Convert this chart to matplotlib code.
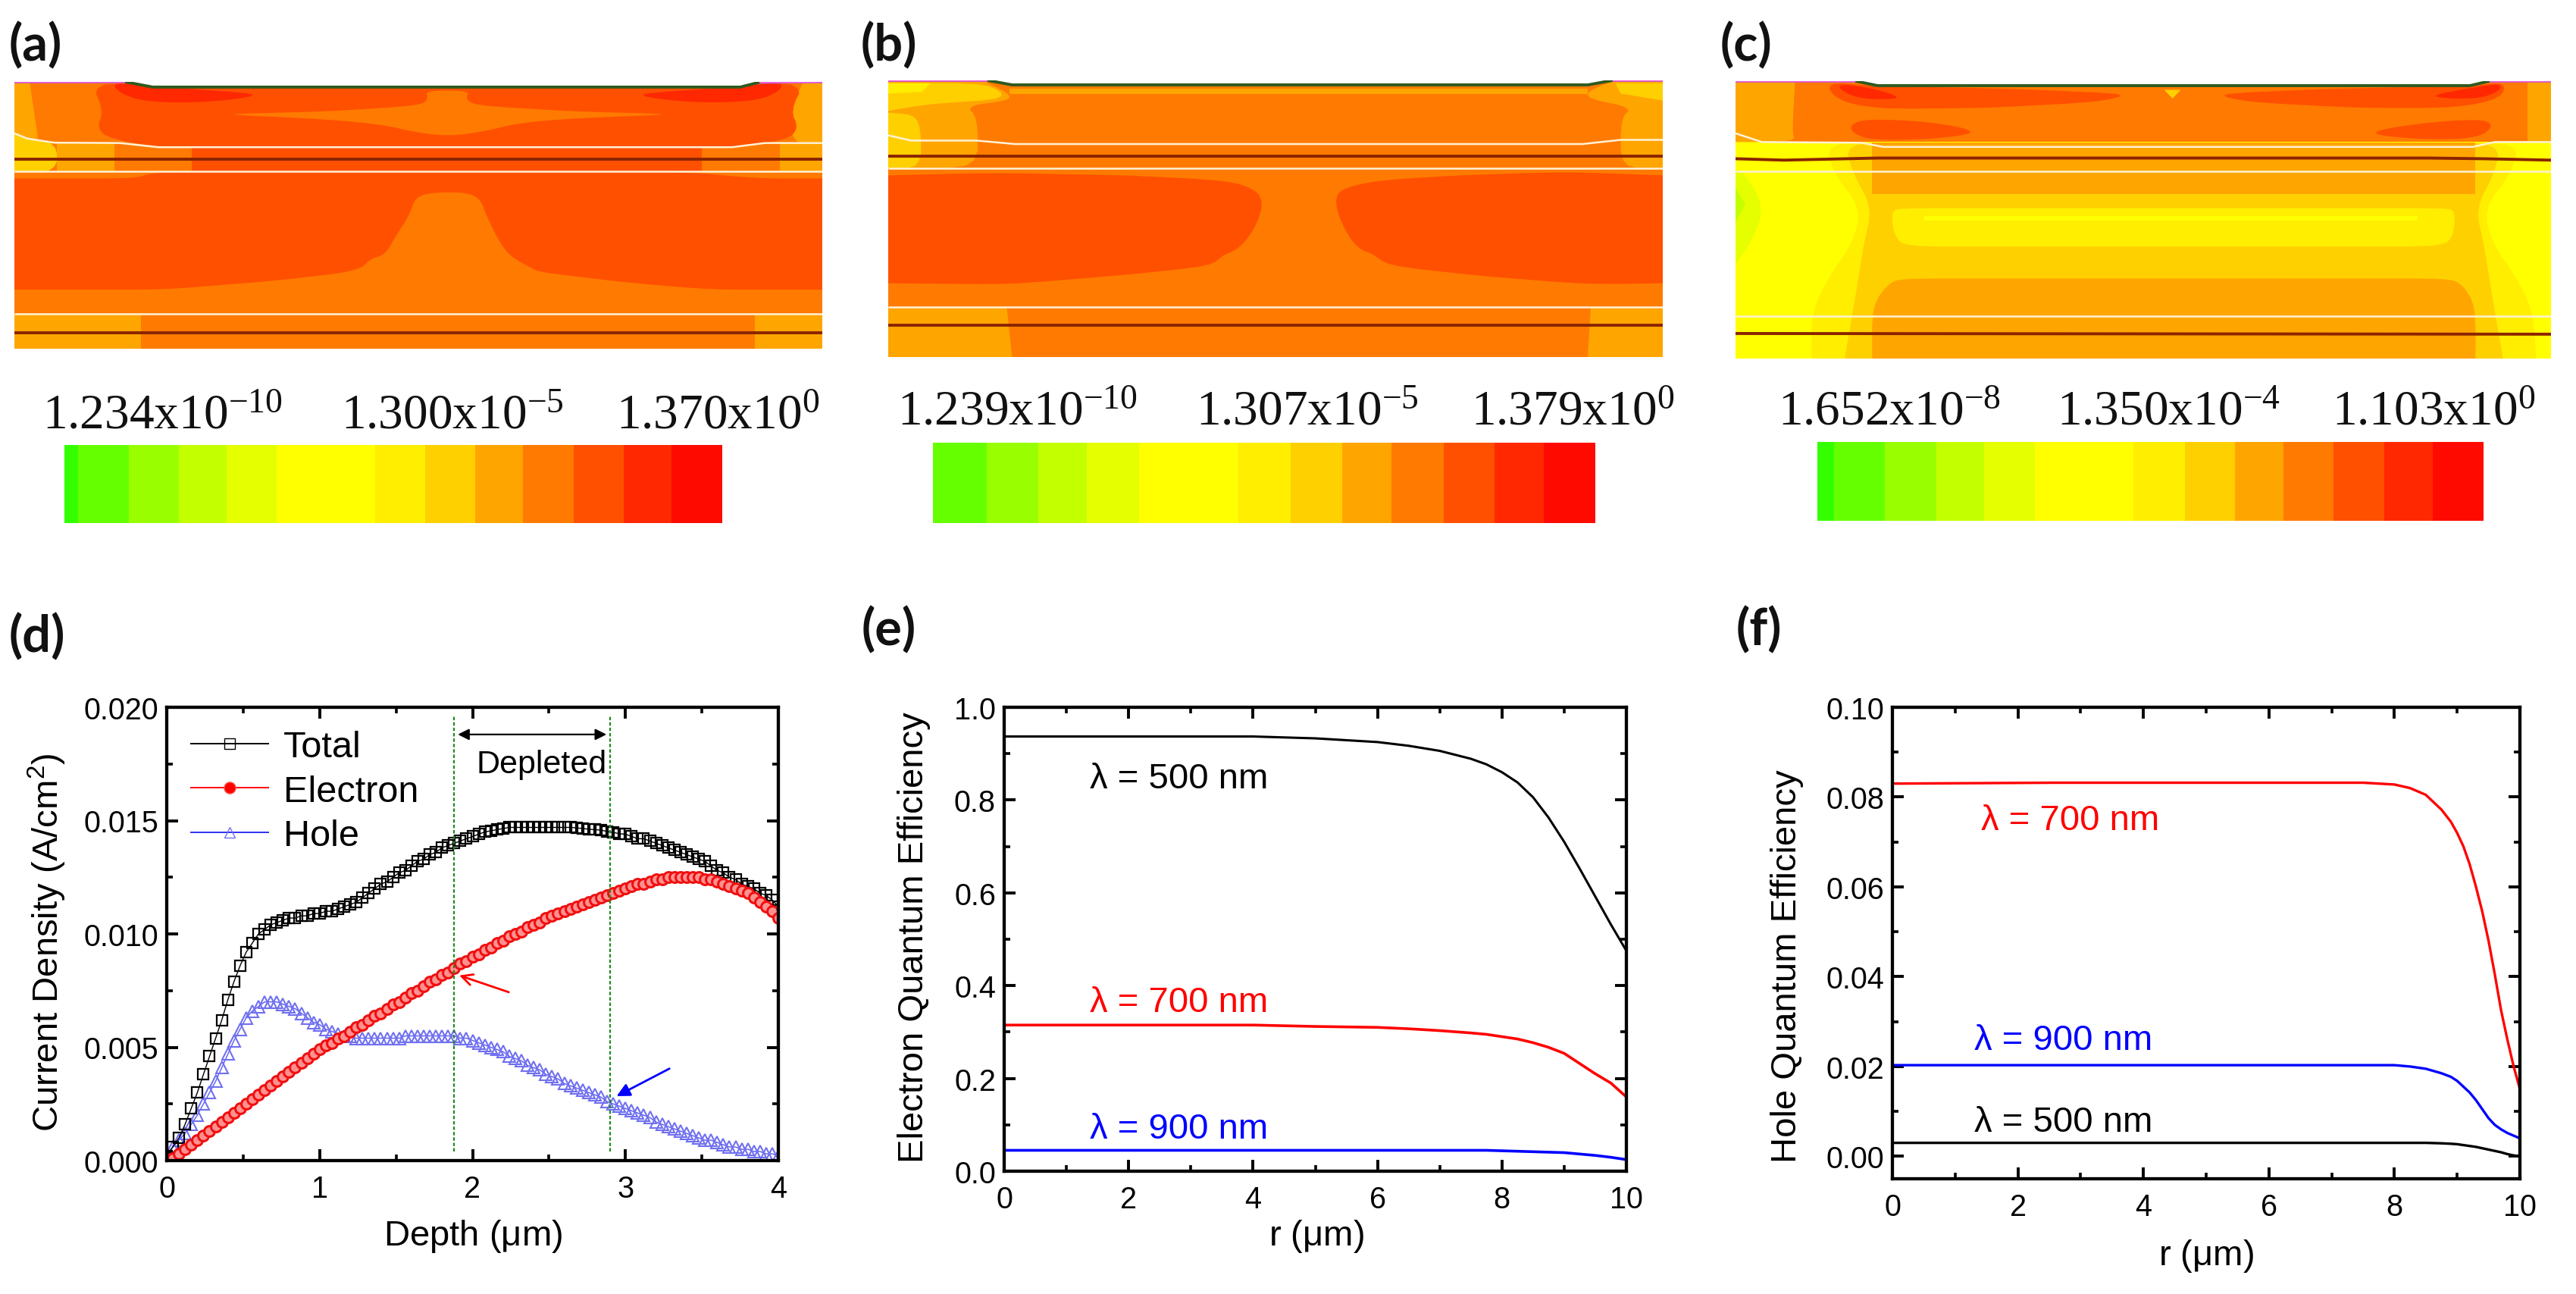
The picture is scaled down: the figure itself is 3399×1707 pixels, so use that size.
import numpy as np
from matplotlib import pyplot as plt
from matplotlib.lines import Line2D
from matplotlib.ticker import MultipleLocator, FormatStrFormatter

W = 3399
H = 1708

plt.rcParams['font.family'] = ['Liberation Sans', 'DejaVu Sans']
plt.rcParams['mathtext.default'] = 'regular'

# colour levels of the contour scale, low to high
GREEN0 = '#33ff00'
GREEN1 = '#66ff00'
GREEN2 = '#99ff00'
GREEN3 = '#c4ff00'
GREEN4 = '#e6ff00'
YEL0 = '#ffff00'
YEL1 = '#ffee00'
YEL2 = '#ffd000'
AMB = '#ffa500'
ORG = '#ff7a00'
DEEP = '#ff5000'
RED0 = '#ff2800'
RED1 = '#ff0a00'
SCALE_COLORS = [GREEN0, GREEN1, GREEN2, GREEN3, GREEN4, YEL0, YEL1, YEL2, AMB, ORG, DEEP, RED0, RED1]

# colour bar step edges
BAR_A = [118, 143, 236, 328, 415, 507, 687, 779, 871, 958, 1051, 1143, 1230, 1323]
BAR_B = [140, 140, 238, 333, 422, 517, 700, 795, 890, 980, 1075, 1168, 1258, 1353]
BAR_C = [190, 220, 313, 406, 493, 585, 764, 857, 949, 1036, 1128, 1220, 1308, 1400]

LABELS_A = ['1.234x10$^{-10}$', '1.300x10$^{-5}$', '1.370x10$^{0}$']
LABELS_B = ['1.239x10$^{-10}$', '1.307x10$^{-5}$', '1.379x10$^{0}$']
LABELS_C = ['1.652x10$^{-8}$', '1.350x10$^{-4}$', '1.103x10$^{0}$']

# contour regions, in the picture units of each map, painted in order
MAP_A = [
    (AMB, [(27, 237), (55, 237), (70, 400), (27, 400)]),
    (AMB, [(1470, 237), (1505, 237), (1505, 415), (1450, 415), (1447, 320)]),
    (DEEP, [(168, 240), (190, 320), (178, 370), (200, 400), (290, 425), (1340, 425), (1440, 405), (1462, 370),
            (1447, 320), (1472, 240)]),
    (ORG, [(400, 330), (600, 322), (770, 305), (785, 285), (778, 262), (860, 262), (852, 285), (870, 305),
           (1050, 322), (1240, 330), (1050, 342), (950, 355), (880, 382), (820, 393), (760, 382), (700, 360),
           (600, 345)]),
    (RED0, [(205, 238), (285, 250), (480, 272), (430, 288), (340, 298), (260, 292), (218, 268)]),
    (RED0, [(1432, 238), (1355, 250), (1160, 272), (1210, 288), (1300, 298), (1390, 290), (1428, 262)]),
    (YEL2, [(27, 385), (50, 400), (105, 412), (105, 497), (27, 497)]),
    (AMB, [(105, 412), (210, 412), (210, 497), (105, 497)]),
    (ORG, [(210, 412), (290, 425), (352, 425), (352, 497), (210, 497)]),
    (DEEP, [(352, 425), (1285, 425), (1285, 497), (352, 497)]),
    (ORG, [(1285, 425), (1345, 425), (1428, 412), (1428, 497), (1285, 497)]),
    (AMB, [(1428, 412), (1505, 412), (1505, 497), (1428, 497)]),
    (DEEP, [(27, 515), (250, 515), (280, 497), (1270, 497), (1380, 515), (1505, 515), (1505, 835), (1300, 835),
            (1150, 815), (990, 785), (975, 775), (935, 740), (915, 700), (890, 620), (880, 575), (855, 555),
            (790, 555), (760, 570), (750, 620), (725, 680), (705, 735), (680, 745), (655, 782), (500, 810),
            (300, 835), (27, 835)]),
    (AMB, [(27, 905), (258, 905), (258, 1005), (27, 1005)]),
    (AMB, [(1382, 905), (1505, 905), (1505, 1005), (1382, 1005)]),
]
MAP_B = [
    (AMB, [(58, 232), (230, 232), (280, 270), (280, 290), (200, 305), (222, 340), (222, 485), (58, 485)]),
    (AMB, [(1390, 232), (1477, 232), (1477, 485), (1400, 485), (1400, 340), (1422, 310), (1340, 285), (1340, 262)]),
    (AMB, [(280, 255), (1340, 255), (1340, 272), (280, 272)]),
    (YEL2, [(58, 240), (240, 240), (280, 285), (130, 300), (58, 320)]),
    (YEL2, [(1390, 240), (1477, 240), (1477, 290), (1400, 270)]),
    (YEL1, [(58, 240), (135, 240), (120, 265), (58, 270)]),
    (YEL2, [(58, 325), (105, 330), (118, 370), (118, 485), (58, 485)]),
    (DEEP, [(58, 505), (250, 498), (500, 505), (680, 520), (730, 545), (745, 580), (735, 640), (715, 690),
            (695, 720), (670, 735), (650, 765), (500, 790), (280, 818), (58, 815)]),
    (DEEP, [(1477, 505), (1300, 495), (1100, 505), (950, 520), (885, 545), (877, 580), (885, 630), (905, 690),
            (925, 720), (945, 730), (975, 765), (1150, 795), (1340, 818), (1477, 815)]),
    (AMB, [(58, 883), (275, 883), (285, 1027), (58, 1027)]),
    (AMB, [(1345, 883), (1477, 883), (1477, 1027), (1340, 1027)]),
]
MAP_C = [
    (YEL0, [(42, 410), (1522, 410), (1522, 1032), (42, 1032)]),
    (AMB, [(42, 235), (150, 235), (145, 380), (150, 410), (42, 410)]),
    (AMB, [(1480, 235), (1522, 235), (1522, 410), (1480, 410)]),
    (DEEP, [(205, 238), (285, 248), (560, 258), (760, 272), (700, 295), (500, 312), (300, 315), (225, 290)]),
    (DEEP, [(1440, 238), (1385, 248), (1100, 258), (910, 272), (970, 295), (1170, 312), (1350, 312), (1432, 285)]),
    (RED0, [(225, 242), (290, 255), (350, 285), (280, 288), (240, 270)]),
    (RED0, [(1432, 242), (1385, 252), (1290, 280), (1385, 288), (1428, 265)]),
    (DEEP, [(250, 360), (280, 343), (400, 352), (490, 382), (400, 402), (290, 405), (255, 385)]),
    (DEEP, [(1420, 360), (1390, 343), (1270, 358), (1182, 385), (1280, 403), (1390, 400)]),
    (YEL2, [(820, 260), (850, 260), (835, 285)]),
    (GREEN4, [(42, 490), (60, 500), (95, 600), (70, 700), (42, 760)]),
    (GREEN3, [(42, 540), (60, 590), (42, 640)]),
    (YEL1, [(205, 412), (220, 500), (270, 600), (255, 700), (210, 800), (180, 900), (180, 1032), (1495, 1032),
            (1490, 900), (1460, 800), (1415, 700), (1400, 600), (1450, 500), (1465, 412)]),
    (YEL2, [(240, 412), (255, 500), (290, 600), (275, 700), (260, 850), (240, 1032), (1435, 1032), (1415, 850),
            (1400, 700), (1385, 600), (1420, 500), (1430, 412)]),
    (AMB, [(290, 412), (1385, 412), (1385, 560), (290, 560)]),
    (YEL1, [(325, 610), (340, 600), (1335, 600), (1348, 610), (1345, 680), (1325, 710), (350, 710), (330, 680)]),
    (YEL0, [(385, 622), (1280, 622), (1280, 636), (385, 636)]),
    (AMB, [(320, 815), (345, 802), (1330, 802), (1360, 815), (1385, 880), (1385, 1032), (290, 1032), (290, 880)]),
]

TOP_A = [(27, 237), (230, 237), (280, 252), (1355, 252), (1390, 238), (1505, 237)]
TOP_B = [(58, 232), (240, 232), (285, 245), (1340, 245), (1385, 232), (1477, 232)]
TOP_C = [(42, 235), (260, 235), (300, 248), (1375, 248), (1410, 235), (1522, 235)]

WHITE_A = [[(27, 385), (50, 400), (100, 412), (220, 413), (290, 425), (1340, 425), (1400, 413), (1505, 413)],
           [(27, 495), (1505, 495)], [(27, 905), (1505, 905)]]
WHITE_B = [[(58, 390), (100, 405), (220, 405), (290, 415), (1330, 415), (1400, 403), (1477, 403)],
           [(58, 485), (1477, 485)], [(58, 883), (1477, 883)]]
WHITE_C = [[(42, 385), (90, 410), (270, 412), (310, 424), (1380, 424), (1420, 410), (1522, 410)],
           [(42, 495), (1522, 495)], [(42, 910), (1522, 910)]]
DARK_A = [[(27, 460), (1505, 460)], [(27, 960), (1505, 960)]]
DARK_B = [[(58, 450), (1477, 450)], [(58, 935), (1477, 935)]]
DARK_C = [[(42, 458), (130, 462), (300, 456), (1300, 456), (1400, 458), (1522, 462)], [(42, 960), (1522, 962)]]

# panel d
DEPTH = [0.00, 0.04, 0.08, 0.12, 0.16, 0.20, 0.24, 0.28, 0.32, 0.36,
         0.40, 0.44, 0.48, 0.52, 0.56, 0.60, 0.64, 0.68, 0.72, 0.76,
         0.80, 0.84, 0.88, 0.92, 0.96, 1.00, 1.04, 1.08, 1.12, 1.16,
         1.20, 1.24, 1.28, 1.32, 1.36, 1.40, 1.44, 1.48, 1.52, 1.56,
         1.60, 1.64, 1.68, 1.72, 1.76, 1.80, 1.84, 1.88, 1.92, 1.96,
         2.00, 2.04, 2.08, 2.12, 2.16, 2.20, 2.24, 2.28, 2.32, 2.36,
         2.40, 2.44, 2.48, 2.52, 2.56, 2.60, 2.64, 2.68, 2.72, 2.76,
         2.80, 2.84, 2.88, 2.92, 2.96, 3.00, 3.04, 3.08, 3.12, 3.16,
         3.20, 3.24, 3.28, 3.32, 3.36, 3.40, 3.44, 3.48, 3.52, 3.56,
         3.60, 3.64, 3.68, 3.72, 3.76, 3.80, 3.84, 3.88, 3.92, 3.96,
         4.00]
TOTAL = [.0002, .0006, .0010, .0016, .0023, .0030, .0038, .0046, .0054, .0062,
         .0071, .0079, .0086, .0092, .0096, .0100, .0102, .0104, .0105, .0106,
         .0107, .0107, .0108, .0108, .0109, .0109, .0110, .0110, .0111, .0112,
         .0113, .0114, .0116, .0118, .0120, .0122, .0123, .0125, .0127, .0128,
         .0130, .0132, .0133, .0135, .0136, .0138, .0139, .0140, .0141, .0142,
         .0143, .0144, .0145, .01455, .0146, .01465, .0147, .0147, .0147, .0147,
         .0147, .0147, .0147, .0147, .0147, .0147, .0147, .01468, .01465, .01462,
         .0146, .01458, .01452, .01448, .01442, .0144, .0143, .0142, .0142, .0141,
         .0140, .0139, .0138, .0137, .0136, .0135, .0134, .0133, .0132, .0130,
         .0128, .0127, .0125, .0124, .0122, .0121, .0120, .0118, .0117, .0115,
         .0112]
ELECTRON = [.0000, .0001, .0003, .0005, .0007, .0009, .0011, .0013, .0015, .0017,
            .0019, .0021, .0023, .0025, .0027, .0029, .0031, .0033, .0035, .0037,
            .0039, .0041, .0043, .0045, .0047, .0049, .0051, .0052, .0054, .0055,
            .0057, .0059, .0060, .0062, .0064, .0065, .0067, .0069, .0070, .0072,
            .0074, .0075, .0077, .0079, .0080, .0082, .0083, .0085, .0087, .0088,
            .0090, .0091, .0093, .0094, .0096, .0097, .0099, .0100, .0101, .0103,
            .0104, .0105, .0107, .0108, .0109, .0110, .0111, .0112, .0113, .0114,
            .0115, .0116, .0117, .0118, .0119, .0120, .0121, .0122, .0122, .0123,
            .0124, .0124, .0125, .0125, .0125, .0125, .0125, .0125, .0124, .0124,
            .0123, .0122, .0121, .0120, .0119, .0118, .0116, .0114, .0112, .0110,
            .0107]
HOLE = [.0003, .0006, .0009, .0012, .0016, .0020, .0025, .0030, .0035, .0041,
        .0047, .0053, .0058, .0063, .0066, .0068, .0070, .0070, .0070, .0069,
        .0068, .0067, .0065, .0063, .0061, .0060, .0058, .0057, .0056, .0055,
        .0055, .0054, .0054, .0054, .0054, .0054, .0054, .0054, .0054, .0055,
        .0055, .0055, .0055, .0055, .0055, .0055, .0055, .0055, .0054, .0054,
        .0053, .0052, .0051, .0050, .0049, .0048, .0046, .0045, .0044, .0042,
        .0041, .0040, .0038, .0037, .0036, .0034, .0033, .0032, .0031, .0030,
        .0029, .0028, .0026, .0025, .0024, .0023, .0022, .0021, .0020, .0019,
        .0017, .0016, .0015, .0014, .0013, .0012, .0011, .0010, .0009, .0009,
        .0008, .0007, .0006, .0006, .0005, .0005, .0004, .0004, .0003, .0003,
        .0002]
DEPLETED = [1.88, 2.90]

# panel e
R_E = [0, 1, 2, 3, 4, 5, 6, 6.5, 7, 7.5, 7.75, 8, 8.25, 8.5, 8.75, 9, 9.25, 9.5, 9.75, 10]
E_500 = [.937, .937, .937, .937, .937, .933, .925, .917, .906, .889, .877, .860, .838, .806, .762, .710, .652, .592,
         .532, .475]
E_700 = [.315, .315, .315, .315, .315, .312, .310, .307, .303, .298, .295, .290, .285, .277, .267, .254, .232, .210,
         .190, .160]
E_900 = [.045, .045, .045, .045, .045, .045, .045, .045, .045, .045, .045, .044, .043, .042, .041, .040, .037, .034,
         .030, .025]

# panel f
R_F = [0, 2.6, 5, 7.5, 8, 8.25, 8.5, 8.75, 8.9, 9, 9.1, 9.2, 9.3, 9.4, 9.5, 9.6, 9.7, 9.8, 9.9, 10]
F_700 = [.0830, .0832, .0832, .0832, .0828, .0820, .0805, .0772, .0745, .0720, .0690, .0650, .0600, .0545, .0480,
         .0405, .0325, .0260, .0200, .0150]
F_900 = [.0203, .0203, .0203, .0203, .0203, .0200, .0195, .0185, .0177, .0168, .0155, .0142, .0125, .0105, .0085,
         .0070, .0060, .0052, .0046, .0040]
F_500 = [.0030, .0030, .0030, .0030, .0030, .0030, .0030, .0029, .0028, .0027, .0025, .0023, .0021, .0018, .0015,
         .0012, .0009, .0005, .0002, .0000]


def px_axes(left, top, right, bottom):
    return fig.add_axes([left / W, 1 - bottom / H, (right - left) / W, (bottom - top) / H])


# round the corners of a region outline, keeping the points that sit on the map border
def soften(pts, lims, rounds=2):
    x0, x1, y0, y1 = lims
    for _ in range(rounds):
        out = []
        n = len(pts)
        for i in range(n):
            p = np.array(pts[i], dtype=float)
            if p[0] <= x0 or p[0] >= x1 or p[1] <= y0 or p[1] >= y1:
                out.append(tuple(p))
                continue
            a = np.array(pts[i - 1], dtype=float)
            b = np.array(pts[(i + 1) % n], dtype=float)
            cut_a = min(0.25, 30 / max(np.hypot(*(a - p)), 1))
            cut_b = min(0.25, 30 / max(np.hypot(*(b - p)), 1))
            out.append(tuple(p + (a - p) * cut_a))
            out.append(tuple(p + (b - p) * cut_b))
        pts = out
    return pts


def draw_map(left, top, right, bottom, lims, base, layers, surface, white, dark):
    ax = px_axes(left, top, right, bottom)
    x0, x1, y0, y1 = lims
    ax.set_xlim(x0, x1)
    ax.set_ylim(y1, y0)
    ax.axis('off')
    ax.fill([x0, x1, x1, x0], [y0, y0, y1, y1], color=base, lw=0)
    for color, pts in layers:
        if len(pts) > 4:
            pts = soften(pts, lims)
        xs, ys = zip(*pts)
        ax.fill(xs, ys, color=color, lw=0)
    for pts in white:
        xs, ys = zip(*pts)
        ax.plot(xs, ys, color='#fff2d8', lw=1.8, solid_capstyle='butt')
    for pts in dark:
        xs, ys = zip(*pts)
        ax.plot(xs, ys, color='#8a2400', lw=2.8, solid_capstyle='butt')
    # top surface: white above, dark passivation and pink contacts on it
    xs, ys = zip(*surface)
    ax.fill(list(xs) + [x1, x0], list(ys) + [y0 - 5, y0 - 5], color='white', lw=0, clip_on=False)
    ax.plot(xs, ys, color='#2f5a20', lw=2.8, solid_capstyle='butt')
    ax.plot(xs[:2], ys[:2], color='#f060e0', lw=2.6, solid_capstyle='butt')
    ax.plot(xs[-2:], ys[-2:], color='#f060e0', lw=2.6, solid_capstyle='butt')


def draw_bar(left, top, right, bottom, edges):
    ax = px_axes(left, top, right, bottom)
    for i, color in enumerate(SCALE_COLORS):
        ax.axvspan(edges[i], edges[i + 1], color=color, lw=0)
    ax.set_xlim(edges[0], edges[-1])
    ax.axis('off')


def bar_labels(labels, xs, y):
    for label, x in zip(labels, xs):
        fig.text(x / W, 1 - y / H, label, family='Liberation Serif', fontsize=47, ha='left', va='baseline',
                 color='#111111')


def style_line_ax(ax, xlim, ylim, xmaj, xmin, ymaj, ymin, yfmt, xlabel, ylabel, xl_px, yl_px, box):
    left, top, right, bottom = box
    ax.set_xlim(*xlim)
    ax.set_ylim(*ylim)
    ax.xaxis.set_major_locator(MultipleLocator(xmaj))
    ax.xaxis.set_minor_locator(MultipleLocator(xmin))
    ax.yaxis.set_major_locator(MultipleLocator(ymaj))
    ax.yaxis.set_minor_locator(MultipleLocator(ymin))
    ax.yaxis.set_major_formatter(FormatStrFormatter(yfmt))
    ax.xaxis.set_major_formatter(FormatStrFormatter('%d'))
    ax.tick_params(which='major', direction='in', top=True, right=True, length=11, width=2.8, labelsize=28.5)
    ax.tick_params(which='minor', direction='in', top=True, right=True, length=6, width=2.6)
    ax.tick_params(axis='x', which='major', pad=13)
    ax.tick_params(axis='y', which='major', pad=8)
    for s in ax.spines.values():
        s.set_linewidth(3.1)
    ax.set_xlabel(xlabel, fontsize=34, va='center')
    ax.set_ylabel(ylabel, fontsize=34, va='center')
    ax.xaxis.set_label_coords((xl_px[0] - left) / (right - left), (bottom - xl_px[1]) / (bottom - top))
    ax.yaxis.set_label_coords((yl_px[0] - left) / (right - left), (bottom - yl_px[1]) / (bottom - top))


fig = plt.figure(figsize=(W / 100, H / 100), dpi=100)

for label, x, y in [('(a)', 12, 61), ('(b)', 1136, 61), ('(c)', 2270, 61),
                    ('(d)', 12, 841), ('(e)', 1137, 832), ('(f)', 2291, 832)]:
    fig.text(x / W, 1 - y / H, label, family='Lato', weight='bold', fontsize=48, ha='left', va='center',
             color='#111111')

draw_map(19, 109, 1085, 461, (27, 1505, 237, 1005), ORG, MAP_A, TOP_A, WHITE_A, DARK_A)
draw_map(1172, 107, 2194, 472, (58, 1477, 232, 1027), ORG, MAP_B, TOP_B, WHITE_B, DARK_B)
draw_map(2290, 108, 3366, 474, (42, 1522, 235, 1032), ORG, MAP_C, TOP_C, WHITE_C, DARK_C)

draw_bar(85, 588, 953, 691, BAR_A)
draw_bar(1231, 585, 2105, 691, BAR_B)
draw_bar(2398, 584, 3277, 688, BAR_C)

bar_labels(LABELS_A, [56, 450, 813], 565)
bar_labels(LABELS_B, [1184, 1578, 1941], 560)
bar_labels(LABELS_C, [2346, 2714, 3077], 560)

# panel d
box_d = (220, 934, 1027, 1532)
ax = px_axes(*box_d)
ax.plot(DEPTH, HOLE, color='#5a5af5', lw=1, marker='^', ms=11, mfc='none', mec='#7070f0', mew=1.5)
ax.plot(DEPTH, TOTAL, color='black', lw=1, marker='s', ms=10, mfc='none', mec='black', mew=1.6)
ax.plot(DEPTH, ELECTRON, color='red', lw=1, marker='o', ms=10, mfc='#ff9090', mec='#f01010', mew=2.2)
for x in DEPLETED:
    ax.plot([x, x], [0.0004, 0.0196], color='#1f8a1f', lw=1.6, ls=(0, (2, 1.2)))
style_line_ax(ax, (0, 4), (0, 0.02), 1, 0.5, 0.005, 0.0025, '%.3f', r'Depth ($\mu$m)',
              'Current Density (A/cm$^2$)', (624, 1631), (62, 1243), box_d)
ax.annotate('', xy=(DEPLETED[0] + 0.01, 0.0188), xytext=(DEPLETED[1] - 0.01, 0.0188),
            arrowprops=dict(arrowstyle='<|-|>', color='black', lw=1.6, mutation_scale=22))
ax.text(2.45, 0.0175, 'Depleted', fontsize=31, ha='center', va='center')
ax.annotate('', xy=(1.9, 0.0082), xytext=(2.25, 0.0074),
            arrowprops=dict(arrowstyle='->', color='red', lw=2, mutation_scale=26))
ax.annotate('', xy=(2.93, 0.0028), xytext=(3.3, 0.0041),
            arrowprops=dict(arrowstyle='-|>', color='blue', lw=2, mutation_scale=26))
handles = [
    Line2D([], [], color='black', lw=1.4, marker='s', ms=10, mfc='none', mec='black'),
    Line2D([], [], color='red', lw=1.4, marker='o', ms=11, mfc='red', mec='#ff6060'),
    Line2D([], [], color='#3030f0', lw=1.4, marker='^', ms=10, mfc='none', mec='#7070f0'),
]
ax.legend(handles, ['Total', 'Electron', 'Hole'], loc='upper left', bbox_to_anchor=(0.04, 0.95), frameon=False,
          fontsize=35, handlelength=2.1, handletextpad=0.4, labelspacing=0.28, borderpad=0, borderaxespad=0)

# panel e
box_e = (1325, 934, 2146, 1546)
ax = px_axes(*box_e)
ax.plot(R_E, E_500, color='black', lw=2.2)
ax.plot(R_E, E_700, color='red', lw=2.6)
ax.plot(R_E, E_900, color='blue', lw=2.6)
style_line_ax(ax, (0, 10), (0, 1), 2, 1, 0.2, 0.1, '%.1f', r'r ($\mu$m)', 'Electron Quantum Efficiency',
              (1737, 1631), (1206, 1237), box_e)
ax.text(1.38, 0.827, 'λ = 500 nm', color='black', fontsize=34, va='baseline')
ax.text(1.38, 0.344, 'λ = 700 nm', color='red', fontsize=34, va='baseline')
ax.text(1.38, 0.072, 'λ = 900 nm', color='blue', fontsize=34, va='baseline')

# panel f
box_f = (2497, 934, 3325, 1556)
ax = px_axes(*box_f)
ax.plot(R_F, F_700, color='red', lw=2.4)
ax.plot(R_F, F_900, color='blue', lw=2.4)
ax.plot(R_F, F_500, color='black', lw=2.4)
style_line_ax(ax, (0, 10), (-0.005, 0.1), 2, 1, 0.02, 0.01, '%.2f', r'r ($\mu$m)', 'Hole Quantum Efficiency',
              (2911, 1657), (2358, 1275), box_f)
ax.text(1.41, 0.0728, 'λ = 700 nm', color='red', fontsize=34, va='baseline')
ax.text(1.30, 0.0238, 'λ = 900 nm', color='blue', fontsize=34, va='baseline')
ax.text(1.30, 0.0057, 'λ = 500 nm', color='black', fontsize=34, va='baseline')

plt.savefig("out.png", dpi=100)
